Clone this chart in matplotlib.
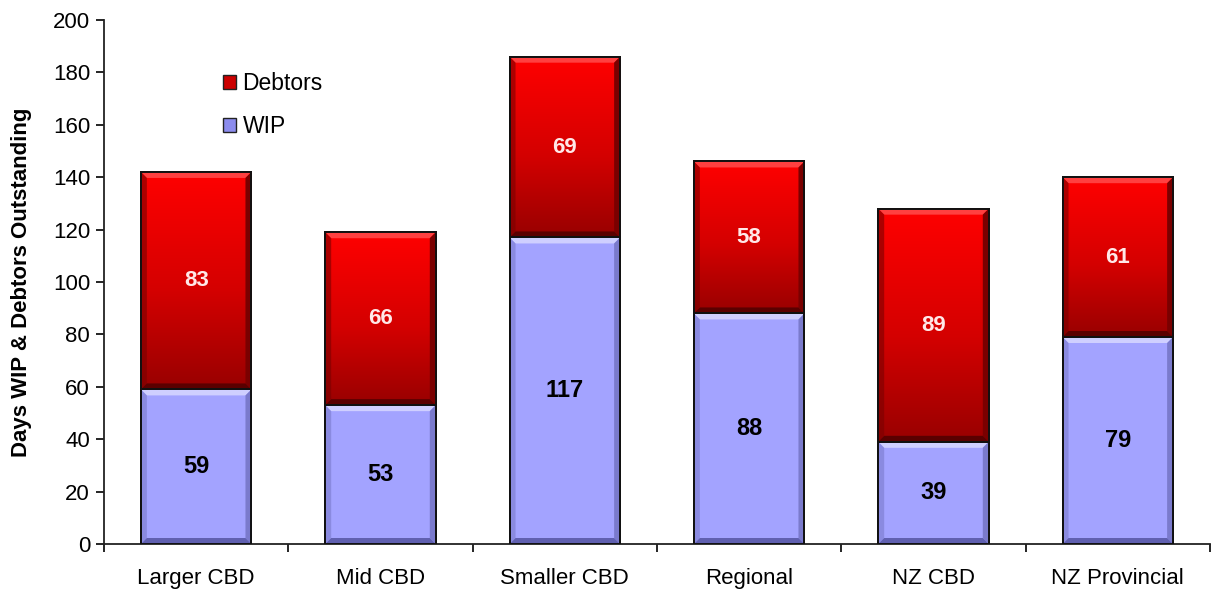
import numpy as np
import matplotlib
matplotlib.use("Agg")
import matplotlib.pyplot as plt
from matplotlib.patches import Patch, Polygon
from matplotlib.colors import LinearSegmentedColormap

plt.rcParams['font.family'] = ['Liberation Sans', 'DejaVu Sans']

categories = ["Larger CBD", "Mid CBD", "Smaller CBD", "Regional", "NZ CBD", "NZ Provincial"]
wip = [59, 53, 117, 88, 39, 79]
debtors = [83, 66, 69, 58, 89, 61]
y_ticks = [0, 20, 40, 60, 80, 100, 120, 140, 160, 180, 200]

fig = plt.figure(figsize=(12.22, 5.89), dpi=100)
ax = fig.add_axes([104 / 1222, 45 / 589, 1106 / 1222, 524 / 589])

x = np.arange(len(categories))
bar_w = 0.6

red_cmap = LinearSegmentedColormap.from_list("red", [(0.0, "#980000"), (0.45, "#d40000"), (1.0, "#ff0000")])
grad = np.linspace(0, 1, 256).reshape(-1, 1)

wip_bars = ax.bar(x, wip, width=bar_w, color="#a3a3ff", edgecolor="#111111", linewidth=1.4, zorder=2)
deb_bars = ax.bar(x, debtors, bottom=wip, width=bar_w, color="#d00000", edgecolor="#111111",
                  linewidth=1.4, zorder=2)

# bevel offsets in data units (approx. 6 px)
dx = 6 / 1106 * 6.0
dy = 6 / 524 * 200


def bevel(bar, light, dark, side):
    x0, y0 = bar.get_x(), bar.get_y()
    w, h = bar.get_width(), bar.get_height()
    x1, y1 = x0 + w, y0 + h
    top = Polygon([(x0, y1), (x1, y1), (x1 - dx, y1 - dy), (x0 + dx, y1 - dy)],
                  closed=True, facecolor=light, edgecolor="none", zorder=3)
    right = Polygon([(x1, y1), (x1, y0), (x1 - dx, y0 + dy), (x1 - dx, y1 - dy)],
                    closed=True, facecolor=side, edgecolor="none", zorder=3)
    left = Polygon([(x0, y1), (x0, y0), (x0 + dx, y0 + dy), (x0 + dx, y1 - dy)],
                   closed=True, facecolor=side, edgecolor="none", zorder=3, alpha=0.6)
    bottom = Polygon([(x0, y0), (x1, y0), (x1 - dx, y0 + dy), (x0 + dx, y0 + dy)],
                     closed=True, facecolor=dark, edgecolor="none", zorder=3)
    for p in (top, right, left, bottom):
        ax.add_patch(p)


for bar in deb_bars:
    x0, y0 = bar.get_x(), bar.get_y()
    im = ax.imshow(grad, extent=(x0, x0 + bar.get_width(), y0, y0 + bar.get_height()),
                   origin="lower", cmap=red_cmap, aspect="auto", zorder=2.5)
    im.set_clip_path(bar)
    bevel(bar, "#ff4040", "#5a0000", "#7a0000")
    # redraw outline above gradient
    ax.bar(bar.get_x() + bar.get_width() / 2, bar.get_height(), bottom=y0, width=bar_w,
           color="none", edgecolor="#111111", linewidth=1.4, zorder=4)

for bar in wip_bars:
    bevel(bar, "#cfcfff", "#6060b0", "#7a7acc")
    ax.bar(bar.get_x() + bar.get_width() / 2, bar.get_height(), bottom=bar.get_y(), width=bar_w,
           color="none", edgecolor="#111111", linewidth=1.4, zorder=4)

for xi, w, d in zip(x, wip, debtors):
    ax.text(xi, w / 2, str(w), ha="center", va="center", fontsize=17, fontweight="bold",
            color="black", zorder=5)
    ax.text(xi, w + d / 2, str(d), ha="center", va="center", fontsize=16, fontweight="bold",
            color="#ffe8e8", zorder=5)

ax.set_xlim(-0.5, len(categories) - 0.5)
ax.set_ylim(0, 200)
ax.set_yticks(y_ticks)
ax.tick_params(axis="y", labelsize=16, length=6, width=1.2, direction="out", pad=4)
ax.set_xticks(x)
ax.set_xticklabels(categories)
ax.tick_params(axis="x", which="major", length=0, labelsize=16, pad=17)
ax.set_xticks(np.arange(-0.5, len(categories), 1.0), minor=True)
ax.tick_params(axis="x", which="minor", length=6, width=1.2, direction="out")
for s in ("top", "right"):
    ax.spines[s].set_visible(False)
for s in ("left", "bottom"):
    ax.spines[s].set_linewidth(1.3)
    ax.spines[s].set_color("#222222")

ax.set_ylabel("Days WIP & Debtors Outstanding", fontsize=16, fontweight="bold", labelpad=15)

handles = [Patch(facecolor="#cc0000", edgecolor="#222222", label="Debtors"),
           Patch(facecolor="#8c8cee", edgecolor="#222222", label="WIP")]
ax.legend(handles=handles, loc="upper left", bbox_to_anchor=(0.089, 0.94), frameon=False,
          fontsize=16.5, handlelength=0.55, handleheight=0.55, handletextpad=0.3, labelspacing=0.88)

fig.savefig("out.png", dpi=100)
